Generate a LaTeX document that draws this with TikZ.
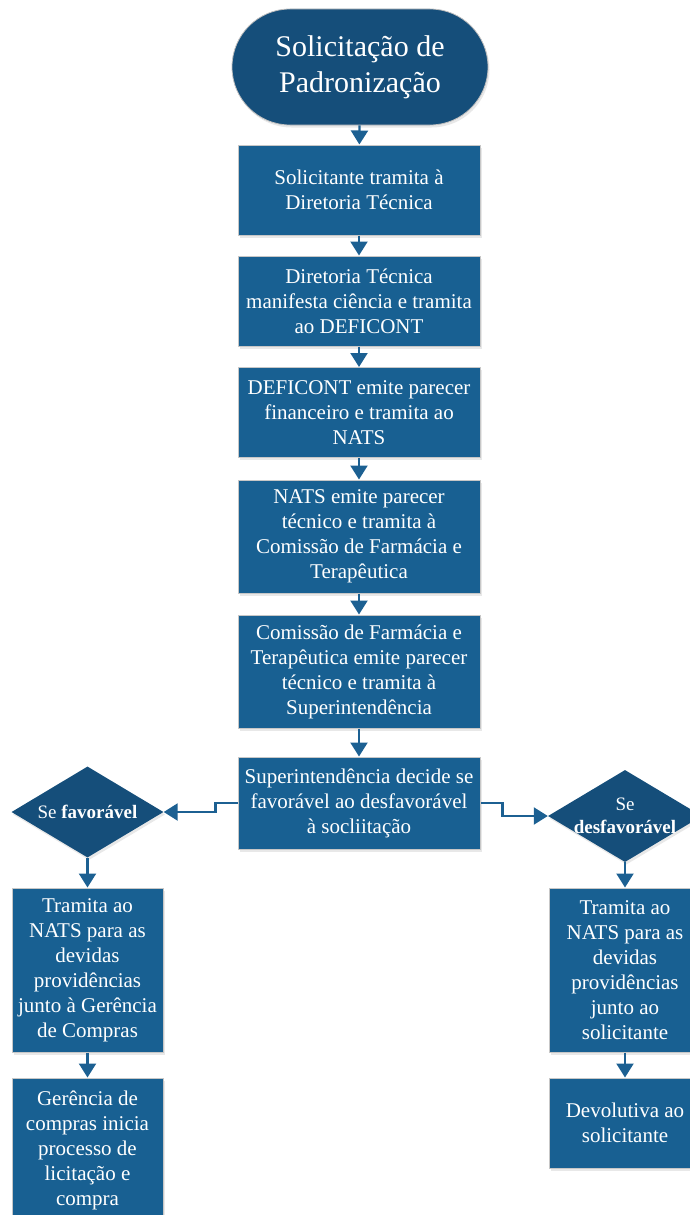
\documentclass[tikz,border=0pt]{standalone}
\usepackage{fontspec}
\setmainfont{Liberation Serif}
\usetikzlibrary{shapes.geometric,arrows.meta,shadows}
\definecolor{boxblue}{RGB}{24,96,146}
\definecolor{darkblue}{RGB}{21,78,122}
\definecolor{edgeblue}{RGB}{28,96,146}
\tikzset{
  sombra/.style={drop shadow={opacity=0.18, shadow xshift=1.5pt, shadow yshift=-2.5pt}},
  inicio/.style={rectangle, rounded corners=58pt, fill=darkblue, draw=black!25, line width=0.8pt,
    text=white, align=center, font=\fontsize{30}{36}\selectfont,
    minimum width=256pt, minimum height=116pt, inner sep=0pt, sombra},
  passo/.style={rectangle, fill=boxblue, draw=black!22, line width=1pt, text=white, align=center,
    font=\fontsize{21}{25}\selectfont, minimum width=242pt, inner sep=0pt, sombra},
  passolado/.style={passo, minimum width=151pt},
  decisao/.style={diamond, aspect=1.7, fill=darkblue, text=white, align=center,
    font=\fontsize{19}{23}\selectfont, inner sep=-4pt, sombra},
  seta/.style={draw=edgeblue, line width=2.2pt, -{Triangle[width=17pt,length=14pt]}}
}
\begin{document}
\begin{tikzpicture}[x=1pt, y=-1pt]
  \useasboundingbox (0,0) rectangle (690,1215);
  \draw
    (360,67) node[inicio] (inicio) {Solicitação de\\Padronização}
    (359,190) node[passo, minimum height=90pt] (b1) {Solicitante tramita à\\Diretoria Técnica}
    (359,301) node[passo, minimum height=90pt] (b2) {Diretoria Técnica\\manifesta ciência e tramita\\ao DEFICONT}
    (359,412.5) node[passo, minimum height=90pt] (b3) {DEFICONT emite parecer\\financeiro e tramita ao\\NATS}
    (359,536.5) node[passo, minimum height=113pt] (b4) {NATS emite parecer\\técnico e tramita à\\Comissão de Farmácia e\\Terapêutica}
    (359,671.5) node[passo, minimum height=113pt] (b5) {Comissão de Farmácia e\\Terapêutica emite parecer\\técnico e tramita à\\Superintendência}
    (359,803) node[passo, minimum height=92pt] (b6) {Superintendência decide se\\favorável ao desfavorável\\à socliitação}
    (87.5,812) node[decisao, minimum width=152pt, minimum height=91pt] (fav) {Se \textbf{favorável}}
    (625,816) node[decisao, minimum width=154pt, minimum height=92pt] (desfav) {Se\\\textbf{desfavorável}}
    (87.5,970) node[passolado, minimum height=164pt] (fav1) {Tramita ao\\NATS para as\\devidas\\providências\\junto à Gerência\\de Compras}
    (87.5,1150) node[passolado, minimum height=144pt] (fav2) {Gerência de\\compras inicia\\processo de\\licitação e\\compra}
    (625,970) node[passolado, minimum height=164pt] (desfav1) {Tramita ao\\NATS para as\\devidas\\providências\\junto ao\\solicitante}
    (625,1123) node[passolado, minimum height=90pt] (desfav2) {Devolutiva ao\\solicitante};
  \begin{scope}[seta]
    \draw (inicio) to (b1);
    \draw (b1) to (b2);
    \draw (b2) to (b3);
    \draw (b3) to (b4);
    \draw (b4) to (b5);
    \draw (b5) to (b6);
    \draw (b6.west) -- ++(-22,0) |- (fav.east);
    \draw (b6.east) -- ++(22,0) |- (desfav.west);
    \draw (fav) to (fav1);
    \draw (fav1) to (fav2);
    \draw (desfav) to (desfav1);
    \draw (desfav1) to (desfav2);
  \end{scope}
\end{tikzpicture}
\end{document}
